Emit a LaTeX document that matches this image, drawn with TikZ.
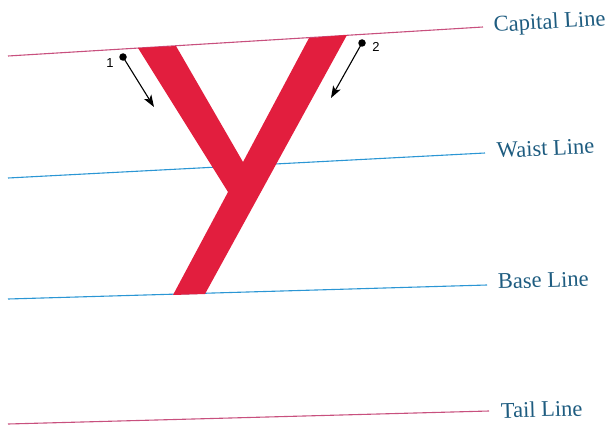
\documentclass[tikz,border=0pt]{standalone}
\usepackage{fontspec}
\setmainfont{Liberation Serif}
\newfontfamily\numfont{Liberation Sans}
\usetikzlibrary{arrows.meta}
\definecolor{pinkline}{HTML}{C8507E}
\definecolor{blueline}{HTML}{2B96D4}
\definecolor{lettred}{HTML}{E21E3E}
\definecolor{labtext}{HTML}{1E5C80}
\begin{document}
\begin{tikzpicture}[x=1pt,y=-1pt,
  guide/.style={line width=1.1pt},
  lab/.style={text=labtext, font=\fontsize{22.5}{24}\selectfont, anchor=base west, inner sep=0pt},
  num/.style={font=\numfont\fontsize{13}{14}\selectfont, inner sep=0pt},
  strokearrow/.style={-{Stealth[length=12pt,width=8.5pt,inset=3pt]}, line width=1.1pt},
  startdot/.style={fill=black, circle, inner sep=0pt, minimum size=7.5pt},
]
\useasboundingbox (0,0) rectangle (612,428);
% guide lines
\coordinate (capL) at (8,56);  \coordinate (capR) at (483,27);
\coordinate (waiL) at (8,178); \coordinate (waiR) at (485,153);
\coordinate (basL) at (8,299); \coordinate (basR) at (487,285);
\coordinate (taiL) at (8,424); \coordinate (taiR) at (489,411);
\draw[guide, pinkline] (capL) -- (capR);
\draw[guide, blueline] (waiL) -- (waiR);
\draw[guide, blueline] (basL) -- (basR);
\draw[guide, pinkline] (taiL) -- (taiR);
% labels
\node[lab, rotate=3.3] (capLab) at (494,32) {Capital Line};
\node[lab, rotate=2.8] (waiLab) at (497,158) {Waist Line};
\node[lab, rotate=1.7] (basLab) at (498,289) {Base Line};
\node[lab, rotate=1.5] (taiLab) at (501,418) {Tail Line};
% letter Y
\fill[lettred] (138,48) -- (176,46) -- (243,162) -- (309,38) -- (347,35)
  -- (205,294) -- (173,295) -- (228,192) -- cycle;
% stroke arrows
\node[startdot] (d1) at (123,57) {};
\coordinate (t1) at (154,107);
\draw[strokearrow] (d1.center) -- (t1);
\node[num] (n1) at (110,63) {1};
\node[startdot] (d2) at (362,43) {};
\coordinate (t2) at (331,98);
\draw[strokearrow] (d2.center) -- (t2);
\node[num] (n2) at (376,47) {2};
\end{tikzpicture}
\end{document}
